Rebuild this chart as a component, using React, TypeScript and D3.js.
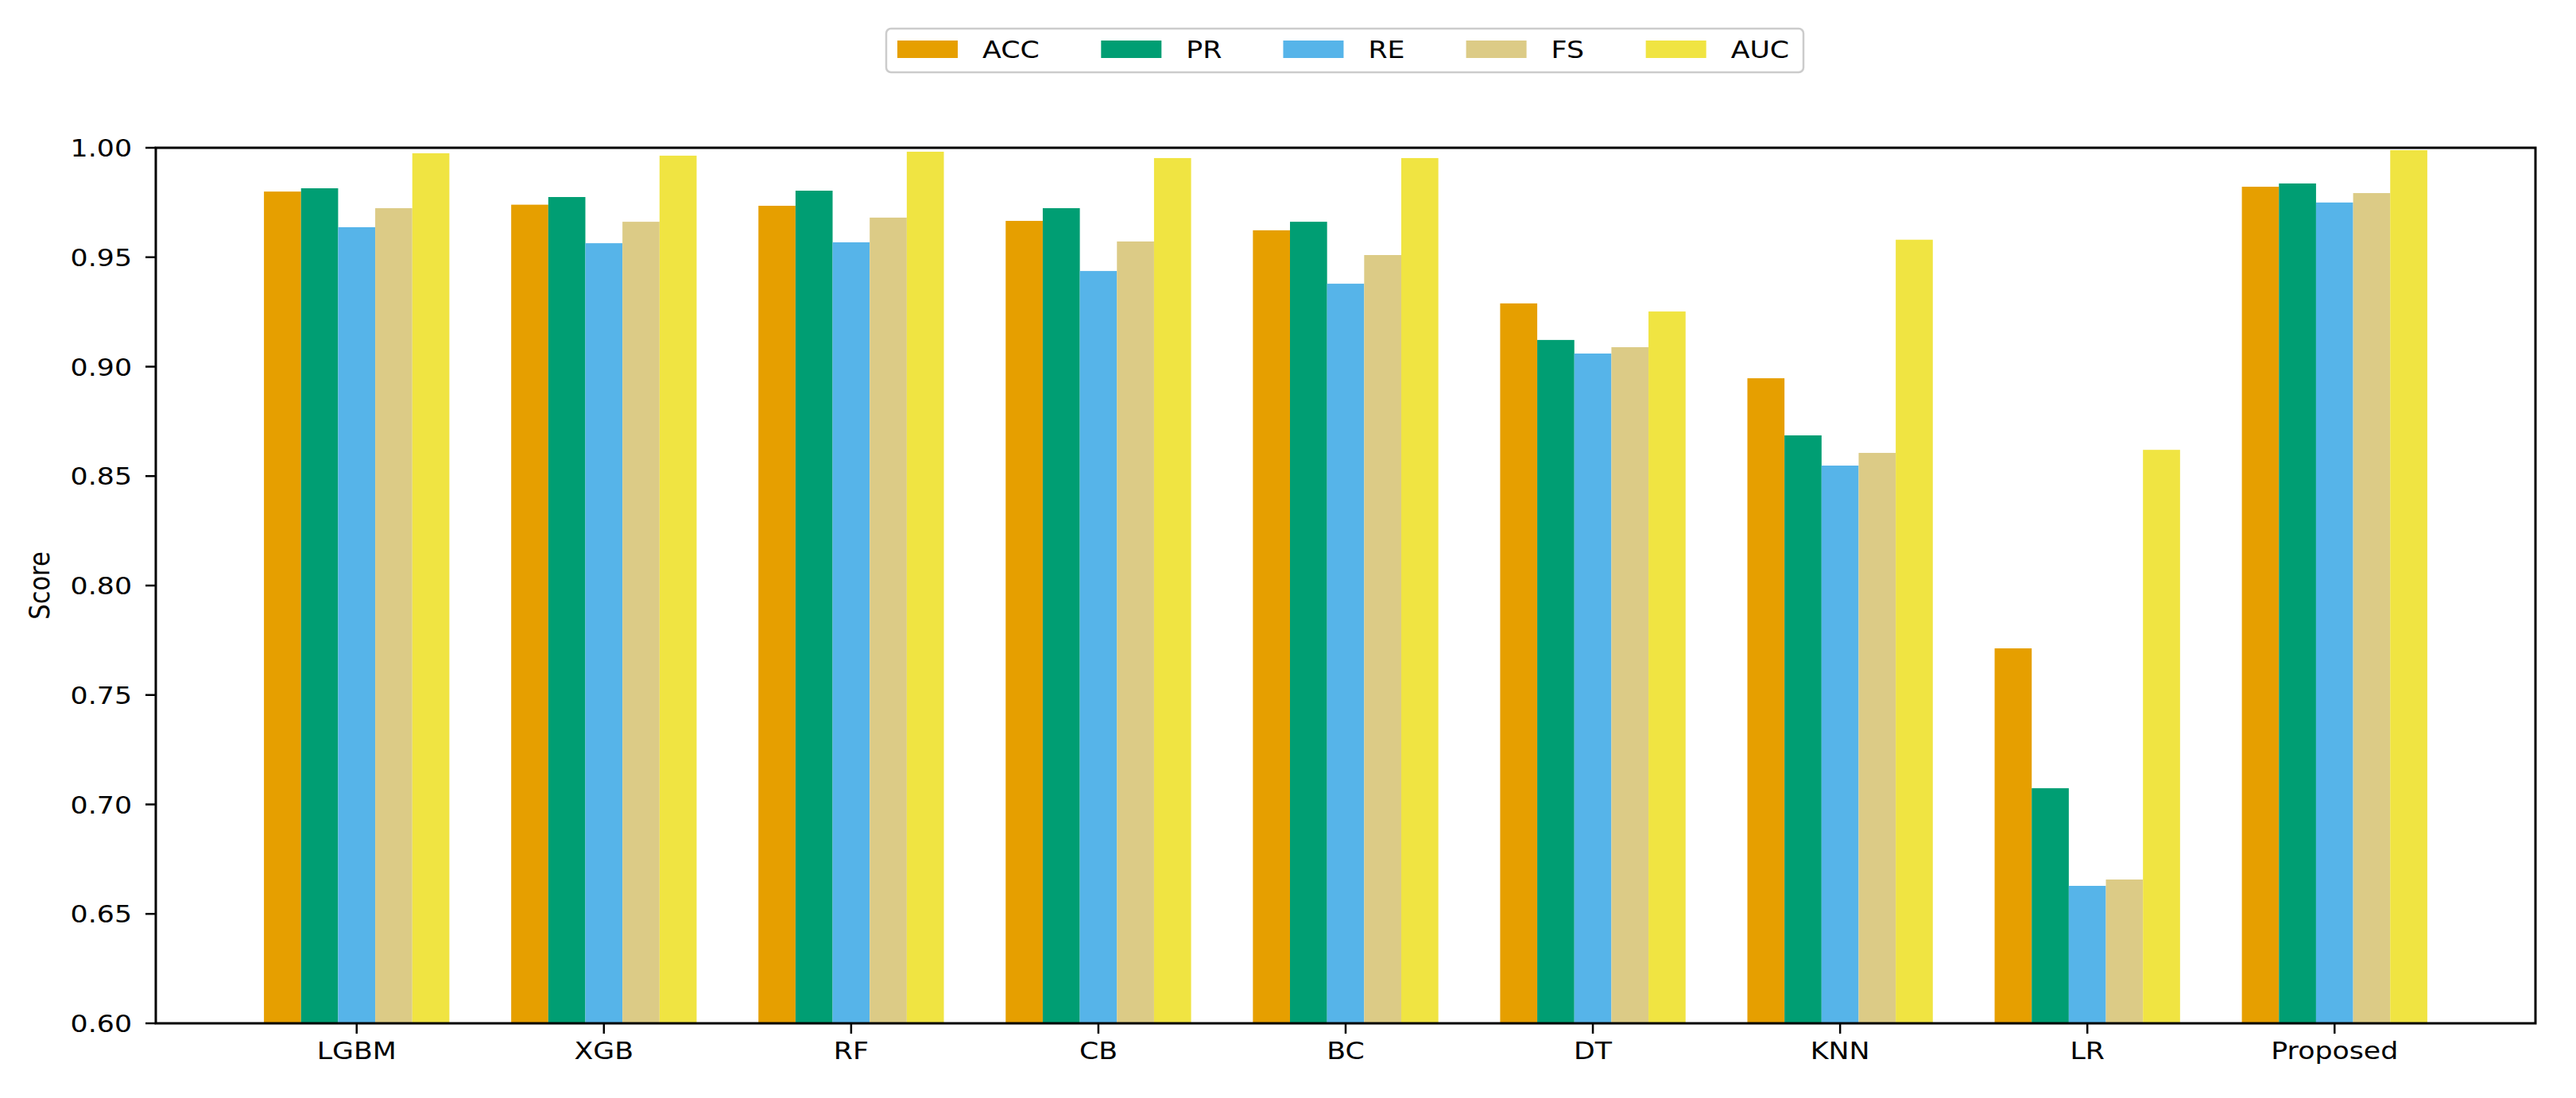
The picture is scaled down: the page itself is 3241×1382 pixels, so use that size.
import React from 'react';
import * as d3 from 'd3';

const models = ['LGBM', 'XGB', 'RF', 'CB', 'BC', 'DT', 'KNN', 'LR', 'Proposed'];
const metrics = ['ACC', 'PR', 'RE', 'FS', 'AUC'];
const colors = ['#E69F00', '#009E73', '#56B4E9', '#DCCB86', '#F0E442'];

const accValues = [0.980, 0.974, 0.9735, 0.9666, 0.9623, 0.9289, 0.8947, 0.7713, 0.9822];
const prValues = [0.9815, 0.9775, 0.9804, 0.9724, 0.9662, 0.9122, 0.8686, 0.7074, 0.9837];
const reValues = [0.9637, 0.9564, 0.9568, 0.9437, 0.9379, 0.906, 0.8548, 0.6628, 0.975];
const fsValues = [0.9724, 0.9662, 0.9681, 0.9572, 0.951, 0.9089, 0.8606, 0.6657, 0.9793];
const aucValues = [0.9975, 0.9964, 0.9982, 0.9953, 0.9953, 0.9252, 0.958, 0.862, 0.9989];

const yTicks = [0.6, 0.65, 0.7, 0.75, 0.8, 0.85, 0.9, 0.95, 1.0];

const W = 3241;
const H = 1382;
const plot = { left: 196, right: 3190, top: 186, bottom: 1288 };
const FONT = 'DejaVu Sans, sans-serif';
const FS = 30.5;
const STRETCH = 1.14;
const BAR_W = 0.15;

// DejaVu Sans advance widths (em) for legend spacing
const charW: Record<string, number> = {
  A: 0.684, C: 0.698, P: 0.603, R: 0.695, E: 0.632, F: 0.575, S: 0.635, U: 0.732,
};
const textWidth = (s: string) =>
  s.split('').reduce((a, c) => a + (charW[c] ?? 0.65), 0) * FS * STRETCH;

function SText({ x, y, rotate = 0, anchor = 'middle', children, size = FS }: any) {
  return (
    <text
      transform={`translate(${x},${y}) scale(${STRETCH},1) rotate(${rotate})`}
      textAnchor={anchor}
      fontFamily={FONT}
      fontSize={size}
      fill="#000"
    >
      {children}
    </text>
  );
}

export default function App() {
  const series = [accValues, prValues, reValues, fsValues, aucValues];
  const n = models.length;
  const span = (n - 1) + metrics.length * BAR_W;
  const pad = span * 0.05;
  const x = d3
    .scaleLinear()
    .domain([-metrics.length * BAR_W / 2 - pad, n - 1 + metrics.length * BAR_W / 2 + pad])
    .range([plot.left, plot.right]);
  const y = d3.scaleLinear().domain([0.6, 1.0]).range([plot.bottom, plot.top]);
  const fmt = d3.format('.2f');

  // legend layout
  const patchW = 76;
  const patchH = 22;
  const textPad = 31;
  const colSpace = 77;
  const legendStart = 1129;
  const legendX: number[] = [];
  let cur = legendStart;
  metrics.forEach((m) => {
    legendX.push(cur);
    cur += patchW + textPad + textWidth(m) + colSpace;
  });

  return (
    <svg
      width={W}
      height={H}
      style={{ position: 'absolute', left: 0, top: 0, display: 'block', background: '#fff' }}
    >
      <rect width={W} height={H} fill="#fff" />

      {/* bars */}
      {series.map((vals, si) =>
        vals.map((v, i) => {
          const x0 = x(i + (si - 2) * BAR_W - BAR_W / 2);
          const x1 = x(i + (si - 2) * BAR_W + BAR_W / 2);
          return (
            <rect
              key={`${si}-${i}`}
              x={x0}
              y={y(v)}
              width={x1 - x0}
              height={y(0.6) - y(v)}
              fill={colors[si]}
            />
          );
        })
      )}

      {/* frame */}
      <rect
        x={plot.left}
        y={plot.top}
        width={plot.right - plot.left}
        height={plot.bottom - plot.top}
        fill="none"
        stroke="#000"
        strokeWidth={3}
      />

      {/* y ticks */}
      {yTicks.map((t) => (
        <g key={t}>
          <line x1={plot.left - 13} x2={plot.left} y1={y(t)} y2={y(t)} stroke="#000" strokeWidth={2.5} />
          <SText x={plot.left - 30} y={y(t) + 11} anchor="end">
            {fmt(t)}
          </SText>
        </g>
      ))}

      {/* x ticks */}
      {models.map((m, i) => (
        <g key={m}>
          <line x1={x(i)} x2={x(i)} y1={plot.bottom} y2={plot.bottom + 13} stroke="#000" strokeWidth={2.5} />
          <SText x={x(i)} y={plot.bottom + 45}>
            {m}
          </SText>
        </g>
      ))}

      {/* y label */}
      <SText x={62} y={(plot.top + plot.bottom) / 2} rotate={-90}>
        Score
      </SText>

      {/* legend */}
      <rect x={1115} y={36} width={1154} height={55} rx={6} fill="#fff" stroke="#cccccc" strokeWidth={2.5} />
      {metrics.map((m, i) => (
        <g key={m}>
          <rect x={legendX[i]} y={51} width={patchW} height={patchH} fill={colors[i]} />
          <SText x={legendX[i] + patchW + textPad} y={73} anchor="start">
            {m}
          </SText>
        </g>
      ))}
    </svg>
  );
}
